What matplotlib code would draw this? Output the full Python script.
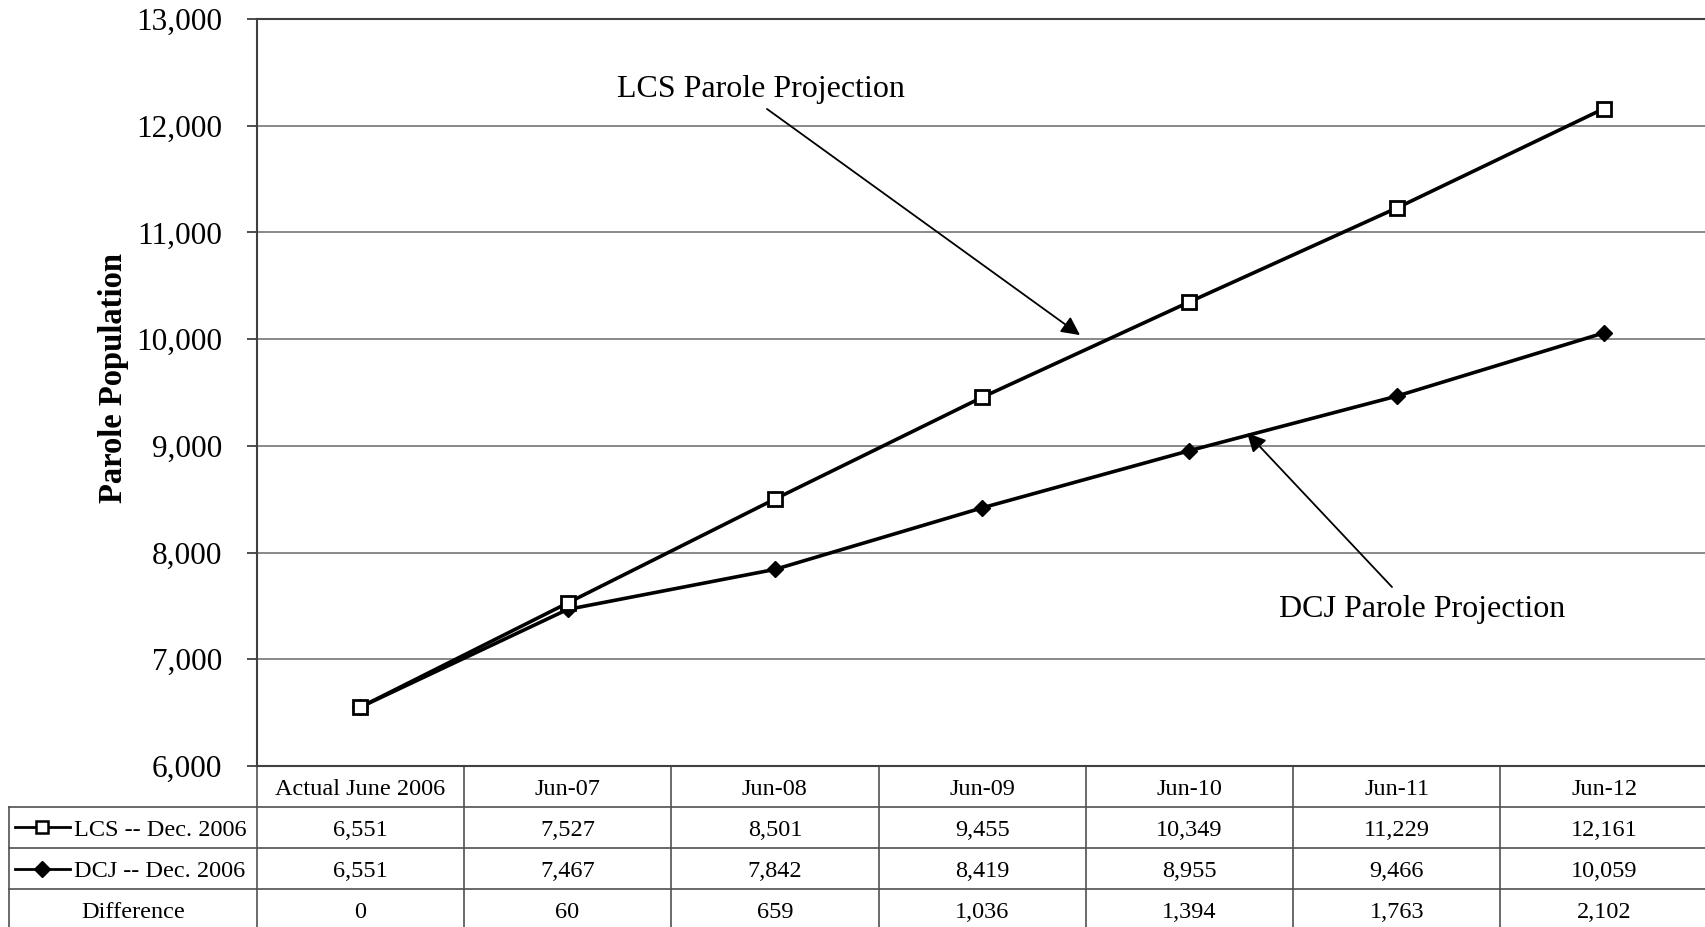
import matplotlib.pyplot as plt
import matplotlib.transforms as mtransforms
from matplotlib.lines import Line2D

plt.rcParams['font.family'] = ['Liberation Serif', 'DejaVu Serif']

# parole population projections
periodos = ["Actual June 2006", "Jun-07", "Jun-08", "Jun-09", "Jun-10", "Jun-11", "Jun-12"]
lcs = [6551, 7527, 8501, 9455, 10349, 11229, 12161]
dcj = [6551, 7467, 7842, 8419, 8955, 9466, 10059]
diferencia = [a - b for a, b in zip(lcs, dcj)]
etiquetas = ["LCS -- Dec. 2006", "DCJ -- Dec. 2006", "Difference"]

fig = plt.figure(figsize=(17.05, 9.27), dpi=100)
ax = fig.add_axes([0.1505, 0.1737, 0.8511, 0.8058])

x = list(range(len(periodos)))
ax.plot(x, lcs, color="black", lw=2.6, marker="s", ms=9.5, mfc="white", mec="black", mew=2, zorder=4)
ax.plot(x, dcj, color="black", lw=2.6, marker="D", ms=8.5, mfc="black", mec="black", zorder=3)

ax.set_xlim(-0.5, len(periodos) - 0.5)
ax.set_ylim(6000, 13000)
ax.set_yticks(range(6000, 13001, 1000))
ax.set_yticklabels(["{:,}".format(v) for v in range(6000, 13001, 1000)], fontsize=22.5)
ax.set_xticks([])
ax.yaxis.grid(True, color="#808080", lw=1.3)
ax.set_axisbelow(True)
ax.tick_params(axis="y", direction="out", length=7, width=1.3, color="#404040", pad=18)
ax.spines["right"].set_visible(False)
for s in ["left", "top", "bottom"]:
    ax.spines[s].set_color("#404040")
    ax.spines[s].set_linewidth(1.5)

ax.set_ylabel("Parole Population", fontsize=23.5, fontweight="bold")
ax.yaxis.set_label_coords(-0.088, 0.519)

# arrows + labels
ax.text(1.933, 12344, "LCS Parole Projection", fontsize=23, ha="center", va="center")
ax.annotate("", xy=(3.472, 10038), xytext=(1.962, 12157),
            arrowprops=dict(arrowstyle="-|>", color="black", lw=1.3, mutation_scale=28, shrinkA=0, shrinkB=0))
ax.text(5.122, 7470, "DCJ Parole Projection", fontsize=23, ha="center", va="center")
ax.annotate("", xy=(4.278, 9120), xytext=(4.977, 7677),
            arrowprops=dict(arrowstyle="-|>", color="black", lw=1.3, mutation_scale=28, shrinkA=0, shrinkB=0))

# data table under the chart
tr = mtransforms.blended_transform_factory(ax.transData, ax.transAxes)
rh = 0.0549
dy = 0.004
izq = -1.694
lc = "#505050"
fs = 17.5
filas = [lcs, dcj, diferencia]

# header row (no label cell)
for i in range(len(periodos) + 1):
    ax.add_line(Line2D([i - 0.5, i - 0.5], [0, -4 * rh], transform=tr, color=lc, lw=1.2, clip_on=False))
for k in range(1, 5):
    ax.add_line(Line2D([izq, len(periodos) - 0.5], [-k * rh, -k * rh], transform=tr, color=lc, lw=1.2, clip_on=False))
ax.add_line(Line2D([izq, izq], [-rh, -4 * rh], transform=tr, color=lc, lw=1.2, clip_on=False))

for i, p in enumerate(periodos):
    ax.text(i, -0.5 * rh - dy, p, transform=tr, ha="center", va="center", fontsize=fs, clip_on=False)

for k, fila in enumerate(filas):
    yc = -(k + 1.5) * rh - dy
    for i, v in enumerate(fila):
        ax.text(i, yc, "{:,}".format(v), transform=tr, ha="center", va="center", fontsize=fs, clip_on=False)

# row labels with series keys
ax.add_line(Line2D([-1.665, -1.40], [-1.5 * rh] * 2, transform=tr, color="black", lw=2, clip_on=False))
ax.add_line(Line2D([-1.535], [-1.5 * rh], transform=tr, marker="s", ms=8.5, mfc="white", mec="black", mew=1.8, clip_on=False))
ax.add_line(Line2D([-1.665, -1.40], [-2.5 * rh] * 2, transform=tr, color="black", lw=2, clip_on=False))
ax.add_line(Line2D([-1.535], [-2.5 * rh], transform=tr, marker="D", ms=8.5, mfc="black", mec="black", clip_on=False))
ax.text(-1.38, -1.5 * rh - dy, etiquetas[0], transform=tr, ha="left", va="center", fontsize=fs, clip_on=False)
ax.text(-1.38, -2.5 * rh - dy, etiquetas[1], transform=tr, ha="left", va="center", fontsize=fs, clip_on=False)
ax.text(-1.096, -3.5 * rh - dy, etiquetas[2], transform=tr, ha="center", va="center", fontsize=fs, clip_on=False)

fig.savefig("out.png", dpi=100)
